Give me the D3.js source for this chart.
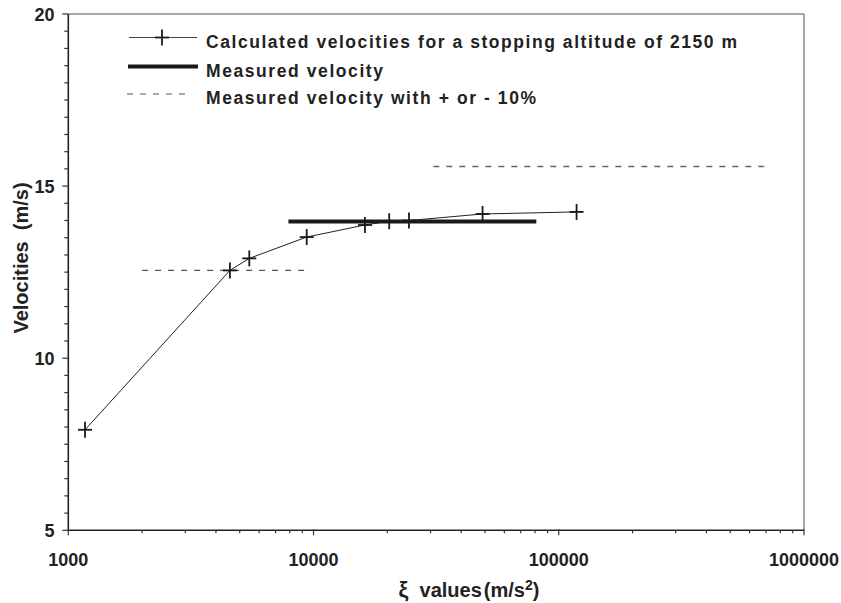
<!DOCTYPE html>
<html><head><meta charset="utf-8">
<script src="https://cdn.jsdelivr.net/npm/d3@7/dist/d3.min.js"></script>
<style>html,body{margin:0;padding:0;background:#fff;}svg{display:block;}</style>
</head><body>
<script>
// ---- data ----
const xiValues = [1170, 4560, 5470, 9380, 16200, 20350, 24500, 48900, 118200];
const velocities = [7.92, 12.55, 12.90, 13.52, 13.87, 13.98, 14.00, 14.19, 14.25];
const measuredVelocity = 13.97;
const measuredRange = [7900, 81000];
const lowerVelocity = 12.55;
const lowerRange = [2000, 9450];
const upperVelocity = 15.57;
const upperRange = [30800, 690000];
const xTickLabels = [1000, 10000, 100000, 1000000];
const yTickLabels = [5, 10, 15, 20];
const legendLabels = [
  "Calculated velocities for a stopping altitude of 2150 m",
  "Measured velocity",
  "Measured velocity with + or - 10%"
];

const W = 841, H = 603;
const font = "'Liberation Sans', Arial, Helvetica, sans-serif";
const svg = d3.select("body").append("svg").attr("width", W).attr("height", H);

const x = d3.scaleLog().domain([1000, 1000000]).range([68.3, 804]);
const y = d3.scaleLinear().domain([5, 20]).range([530.3, 14]);

// frame top/right (gray)
svg.append("line").attr("x1", x.range()[0]).attr("x2", x.range()[1]).attr("y1", y(20)).attr("y2", y(20))
  .attr("stroke", "#8a8a8a").attr("stroke-width", 1.5);
svg.append("line").attr("x1", x.range()[1]).attr("x2", x.range()[1]).attr("y1", y(20)).attr("y2", y(5))
  .attr("stroke", "#8a8a8a").attr("stroke-width", 1.5);

// y axis
const yMinor = d3.range(5, 20.01, 0.5);
const yAxis = svg.append("g");
yAxis.append("line").attr("x1", x.range()[0]).attr("x2", x.range()[0]).attr("y1", y(20)).attr("y2", y(5))
  .attr("stroke", "#222").attr("stroke-width", 1.6);
yAxis.selectAll("line.t").data(yMinor).join("line").attr("class", "t")
  .attr("x1", d => x.range()[0] - (yTickLabels.includes(d) ? 6 : 4)).attr("x2", x.range()[0])
  .attr("y1", d => y(d)).attr("y2", d => y(d)).attr("stroke", "#333").attr("stroke-width", 1.2);
yAxis.selectAll("text").data(yTickLabels).join("text")
  .attr("x", 54.5).attr("y", d => y(d) + 6.5).attr("text-anchor", "end")
  .attr("font-family", font).attr("font-weight", "bold").attr("font-size", 18).attr("fill", "#222")
  .text(d => d);

// x axis
const xMinor = [];
for (let e = 3; e < 6; e++) for (let m = 1; m <= 9; m++) xMinor.push(m * Math.pow(10, e));
xMinor.push(1000000);
const xAxis = svg.append("g");
xAxis.append("line").attr("x1", x.range()[0]).attr("x2", x.range()[1]).attr("y1", y(5)).attr("y2", y(5))
  .attr("stroke", "#222").attr("stroke-width", 1.6);
xAxis.selectAll("line.t").data(xMinor).join("line").attr("class", "t")
  .attr("x1", d => x(d)).attr("x2", d => x(d))
  .attr("y1", d => y(5) - (xTickLabels.includes(d) ? 1 : 0))
  .attr("y2", d => y(5) + (xTickLabels.includes(d) ? 5 : 3))
  .attr("stroke", "#333").attr("stroke-width", 1.2);
xAxis.selectAll("text").data(xTickLabels).join("text")
  .attr("x", d => x(d)).attr("y", 566).attr("text-anchor", "middle")
  .attr("font-family", font).attr("font-weight", "bold").attr("font-size", 18).attr("fill", "#222")
  .text(d => d);

// axis titles
const xt = svg.append("text").attr("x", 469).attr("y", 597).attr("text-anchor", "middle")
  .attr("font-family", font).attr("font-weight", "bold").attr("font-size", 20).attr("fill", "#222")
  .attr("xml:space", "preserve");
xt.append("tspan").attr("font-size", 22).text("ξ");
xt.append("tspan").text("  values");
xt.append("tspan").attr("dx", 2).text("(m/s");
xt.append("tspan").attr("dy", -7).attr("font-size", 14).text("2");
xt.append("tspan").attr("dy", 7).text(")");

svg.append("text").attr("transform", "translate(28,258) rotate(-90)").attr("text-anchor", "middle")
  .attr("font-family", font).attr("font-weight", "bold").attr("font-size", 20).attr("fill", "#222")
  .attr("xml:space", "preserve").text("Velocities  (m/s)");

// reference lines
const dash = "6,7";
svg.append("line").attr("x1", x(lowerRange[0])).attr("x2", x(lowerRange[1]))
  .attr("y1", y(lowerVelocity)).attr("y2", y(lowerVelocity))
  .attr("stroke", "#555").attr("stroke-width", 1.3).attr("stroke-dasharray", dash);
svg.append("line").attr("x1", x(upperRange[0])).attr("x2", x(upperRange[1]))
  .attr("y1", y(upperVelocity)).attr("y2", y(upperVelocity))
  .attr("stroke", "#666").attr("stroke-width", 1.3).attr("stroke-dasharray", dash);
svg.append("line").attr("x1", x(measuredRange[0])).attr("x2", x(measuredRange[1]))
  .attr("y1", y(measuredVelocity)).attr("y2", y(measuredVelocity))
  .attr("stroke", "#1a1a1a").attr("stroke-width", 4);

// calculated series
const pts = xiValues.map((d, i) => [d, velocities[i]]);
svg.append("path").datum(pts)
  .attr("d", d3.line().x(d => x(d[0])).y(d => y(d[1])))
  .attr("fill", "none").attr("stroke", "#222").attr("stroke-width", 1);
const plus = (g, cx, cy) => {
  g.append("line").attr("x1", cx - 7).attr("x2", cx + 7).attr("y1", cy).attr("y2", cy)
    .attr("stroke", "#1a1a1a").attr("stroke-width", 1.8);
  g.append("line").attr("x1", cx).attr("x2", cx).attr("y1", cy - 8).attr("y2", cy + 8)
    .attr("stroke", "#1a1a1a").attr("stroke-width", 1.8);
};
const mk = svg.append("g");
pts.forEach(d => plus(mk, x(d[0]), y(d[1])));

// legend
const lg = svg.append("g");
lg.append("line").attr("x1", 129).attr("x2", 197).attr("y1", 37.5).attr("y2", 37.5)
  .attr("stroke", "#444").attr("stroke-width", 1);
plus(lg, 162, 37.5);
lg.append("line").attr("x1", 128).attr("x2", 198).attr("y1", 66.5).attr("y2", 66.5)
  .attr("stroke", "#1a1a1a").attr("stroke-width", 4);
lg.append("line").attr("x1", 127).attr("x2", 192).attr("y1", 94).attr("y2", 94)
  .attr("stroke", "#555").attr("stroke-width", 1.2).attr("stroke-dasharray", "6,7");
const lgY = [47.5, 77, 103.5];
const lgW = [531, 177, 330];
legendLabels.forEach((t, i) => {
  lg.append("text").attr("x", 206).attr("y", lgY[i])
    .attr("font-family", font).attr("font-weight", "bold").attr("font-size", 17.5).attr("fill", "#222")
    .attr("textLength", lgW[i]).attr("lengthAdjust", "spacing").text(t);
});
</script>
</body></html>
